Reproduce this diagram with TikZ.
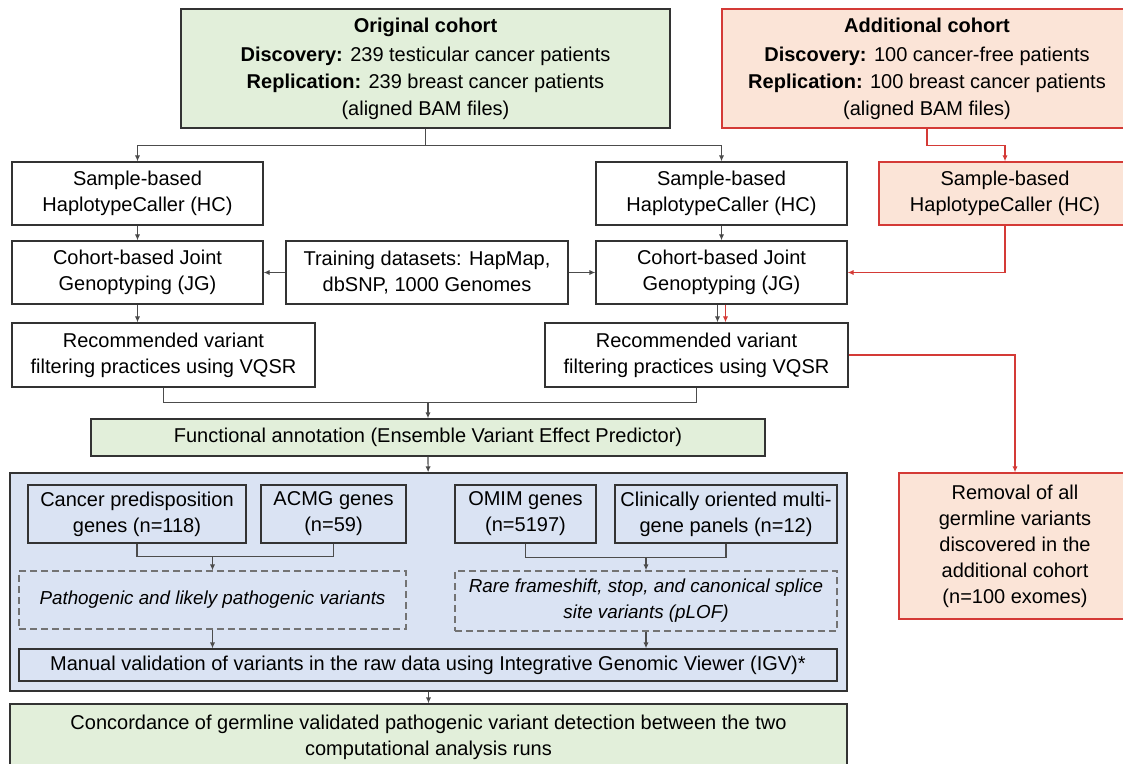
\documentclass[tikz,border=0pt]{standalone}
\usepackage{fontspec}
\setmainfont{Liberation Sans}
\usetikzlibrary{arrows.meta,positioning,calc}
\definecolor{grnfill}{HTML}{E2EFDA}
\definecolor{redfill}{HTML}{FBE4D7}
\definecolor{redline}{HTML}{D43A36}
\definecolor{bluefill}{HTML}{DAE3F3}

\begin{document}
\begin{tikzpicture}[x=0.5pt,y=-0.5pt,>={Latex[length=3pt,width=2.6pt]},
   font=\fontsize{10}{13}\selectfont,
   sz/.style 2 args={minimum width=#1*0.5pt,minimum height=#2*0.5pt},
   box/.style={draw=black!80,line width=0.6pt,align=center,inner sep=0pt},
   grn/.style={box,fill=grnfill},
   add/.style={box,draw=redline,fill=redfill},
   cohort/.style={font=\fontsize{10}{13.5}\selectfont},
   dsh/.style={box,draw=black!55,dash pattern=on 3.5pt off 2pt,
      font=\fontsize{9.4}{13}\selectfont\itshape},
   lnk/.style={draw=black!70,line width=0.6pt},
   redlnk/.style={draw=redline,line width=0.6pt}]
   \useasboundingbox (0,0) rectangle (1123,764);
   \clip (0,0) rectangle (1123,764);

   % cohorts
   \node[grn,cohort,sz={489}{119}] (orig) at (425.5,68.5) {\textbf{Original cohort}\\[1pt]
      \textbf{Discovery:} 239 testicular cancer patients\\
      \textbf{Replication:} 239 breast cancer patients\\(aligned BAM files)};
   \node[add,cohort,sz={410}{119}] (addl) at (927,68.5) {\textbf{Additional cohort}\\[1pt]
      \textbf{Discovery:} 100 cancer-free patients\\
      \textbf{Replication:} 100 breast cancer patients\\(aligned BAM files)};

   % calling
   \node[box,sz={251}{63}] (hcL) at (137.5,193.5) {Sample-based\\HaplotypeCaller (HC)};
   \node[box,sz={251}{63}] (hcR) at (721.5,193.5) {Sample-based\\HaplotypeCaller (HC)};
   \node[add,sz={252}{63}] (hcA) at (1005,193.5) {Sample-based\\HaplotypeCaller (HC)};
   \node[box,sz={251}{63}] (jgL) at (137.5,272.5) {Cohort-based Joint\\Genoptyping (JG)};
   \node[box,sz={282}{63}] (train) at (427,272.5) {Training datasets: HapMap,\\dbSNP, 1000 Genomes};
   \node[box,sz={251}{63}] (jgR) at (721.5,272.5) {Cohort-based Joint\\Genoptyping (JG)};
   \node[box,sz={303}{64}] (vqL) at (163.5,355) {Recommended variant\\filtering practices using VQSR};
   \node[box,sz={303}{64}] (vqR) at (696.5,355) {Recommended variant\\filtering practices using VQSR};
   \node[grn,sz={674}{37}] (func) at (428,437.5) {Functional annotation (Ensemble Variant Effect Predictor)};

   % gene lists
   \node[box,fill=bluefill,sz={837}{218}] (blue) at (428.5,582) {};
   \node[box,sz={218}{58}] (canc) at (137,514) {Cancer predisposition\\genes (n=118)};
   \node[box,sz={145}{58}] (acmg) at (333.5,514) {ACMG genes\\(n=59)};
   \node[box,sz={141}{58}] (omim) at (525.5,514) {OMIM genes\\(n=5197)};
   \node[box,sz={222}{58}] (clin) at (726,514) {Clinically oriented multi-\\gene panels (n=12)};
   \node[dsh,sz={387}{58}] (pathL) at (212.5,600) {Pathogenic and likely pathogenic variants};
   \node[dsh,sz={382}{60}] (pathR) at (646,601) {Rare frameshift, stop, and canonical splice\\site variants (pLOF)};
   \node[box,sz={818}{32}] (man) at (428,665) {Manual validation of variants in the raw data using Integrative Genomic Viewer (IGV)*};
   \node[grn,sz={837}{66}] (conc) at (428.5,737) {Concordance of germline validated pathogenic variant detection between the two\\computational analysis runs};
   \node[add,sz={232}{146}] (rem) at (1015,546) {Removal of all\\germline variants\\discovered in the\\additional cohort\\(n=100 exomes)};

   % black connectors
   \draw[lnk,->] (orig.south) -- ++(0,17) -| (hcL.north);
   \draw[lnk,->] (orig.south) -- ++(0,17) -| (hcR.north);
   \path[lnk,->]
    (hcL) edge (jgL)
    (hcR) edge (jgR)
    (train) edge (jgL)
          edge (jgR)
    (func) edge (blue)
    (blue) edge (conc);
   \draw[lnk,->] (jgL.south) -- (jgL.south |- vqL.north);
   \coordinate (jgRb) at ($(jgR.south)+(-4,0)$);
   \coordinate (jgRr) at ($(jgR.south)+(4,0)$);
   \draw[lnk,->] (jgRb) -- (jgRb |- vqR.north);
   \coordinate (mrg) at ($(func.north)+(0,-16)$);
   \draw[lnk] (vqL.south) |- (mrg) -| (vqR.south);
   \draw[lnk,->] (mrg) -- (func.north);

   \coordinate (gL) at ($(pathL.north)+(0,-14)$);
   \draw[lnk] (canc.south) |- (gL) -| (acmg.south);
   \draw[lnk,->] (gL) -- (pathL.north);
   \coordinate (gR) at ($(pathR.north)+(0,-13)$);
   \draw[lnk] (omim.south) |- (gR) -| (clin.south);
   \draw[lnk,->] (gR) -- (pathR.north);
   \draw[lnk,->] (pathL.south) -- (pathL.south |- man.north);
   \draw[lnk,->] (pathR.south) -- (pathR.south |- man.north);

   % red connectors
   \draw[redlnk,->] (addl.south) -- ++(0,17) -| (hcA.north);
   \draw[redlnk,->] (hcA.south) |- (jgR.east);
   \draw[redlnk,->] (jgRr) -- (jgRr |- vqR.north);
   \draw[redlnk,->] (vqR.east) -| (rem.north);
\end{tikzpicture}
\end{document}
